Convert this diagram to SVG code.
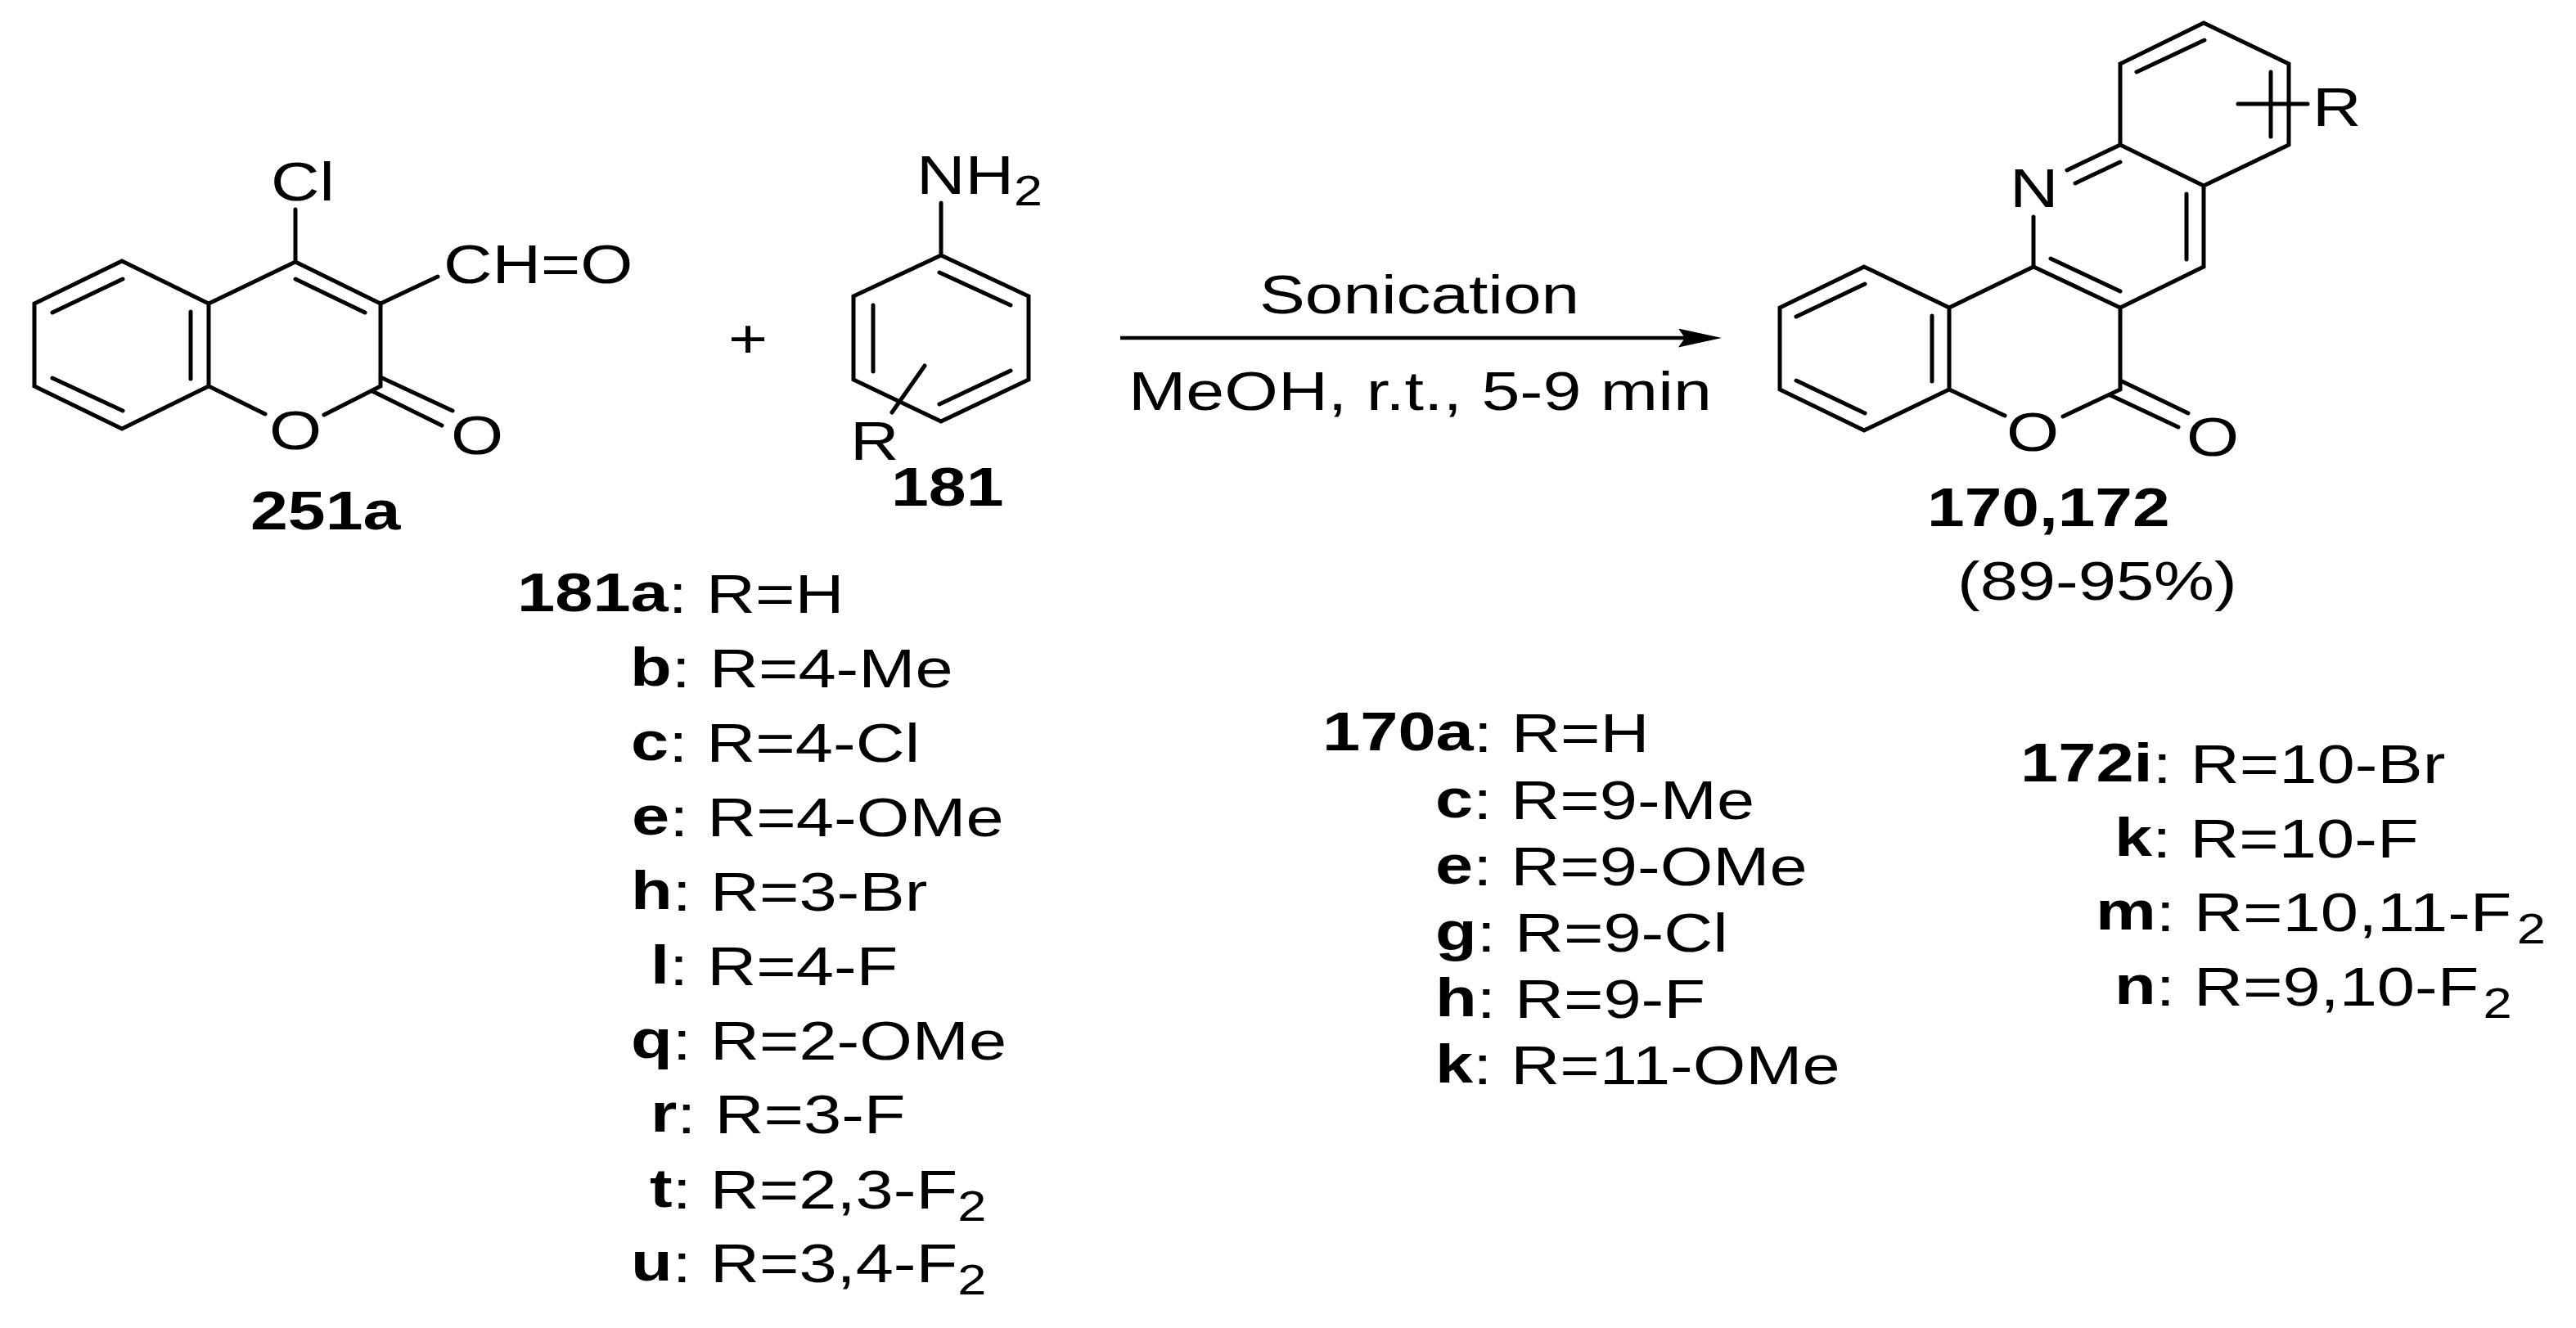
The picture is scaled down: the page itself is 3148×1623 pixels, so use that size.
<svg xmlns="http://www.w3.org/2000/svg" width="3148" height="1623" viewBox="0 0 3148 1623">
<style>
text{font-family:"Liberation Sans",Arial,sans-serif;font-size:67px;fill:#000}
.b{font-weight:700}
.s{font-size:51px}
.bond{fill:none;stroke:#000;stroke-width:5;stroke-linecap:round;stroke-linejoin:miter}
</style>
<defs>
<marker id="head" markerUnits="userSpaceOnUse" viewBox="0 0 53 23" markerWidth="53" markerHeight="23" refX="15" refY="11.5" orient="auto"><path d="M0,0L53,11.5L0,23L8,11.5Z" fill="#000"/></marker>
</defs>
<rect width="3148" height="1623" fill="#fff"/>
<g id="compound-251a">
<path class="bond" d="M149,319L42,371V472L149,524L255,472V371ZM255,371L361,320L465,371V472L396,507M255,472L324,506M361,320V256M465,371L535,338M361,341L446,382M150,341L64,382M233,381V463M64,462L150,502M465,461L553,502M455,478L540,520"/>
<text transform="translate(331 245) scale(1.23 1)">Cl</text>
<text transform="translate(542 346) scale(1.23 1)">CH=O</text>
<text transform="translate(329 549) scale(1.23 1)">O</text>
<text transform="translate(551 555) scale(1.23 1)">O</text>
<text class="b" transform="translate(306 647) scale(1.23 1)">251a</text>
</g>
<g id="plus"><text text-anchor="middle" transform="translate(914 437) scale(1.23 1)">+</text></g>
<g id="compound-181">
<path class="bond" d="M1150,312L1257,362V464L1150,515L1043,464V362ZM1150,312V248M1148,333L1235,373M1067,373V454M1148,494L1235,453M1130,447L1090,504"/>
<text transform="translate(1120 237) scale(1.23 1)">NH<tspan class="s" dy="14">2</tspan></text>
<text transform="translate(1039 562) scale(1.23 1)">R</text>
<text class="b" transform="translate(1089 618) scale(1.23 1)">181</text>
</g>
<g id="connectors">
<line x1="1369" y1="413" x2="2066" y2="413" stroke="#000" stroke-width="4.5" marker-end="url(#head)"/>
</g>
<g id="conditions">
<text transform="translate(1539 383) scale(1.25 1)">Sonication</text>
<text transform="translate(1379 501) scale(1.26 1)">MeOH, r.t., 5-9 min</text>
</g>
<g id="compound-170-172">
<path class="bond" d="M2693,28L2797,78V177L2693,227L2591,177V78ZM2693,227V326L2591,376L2485,326V265M2591,177L2526,208M2536,224L2591,198M2485,326L2382,376L2278,326L2175,376V476L2278,526L2382,476V376M2382,476L2450,508M2521,509L2591,476V376M2611,88L2694,49M2775,88V167M2672,237V317M2506,316L2591,356M2195,387L2279,347M2361,386V466M2195,465L2279,505M2591,465L2674,505M2579,483L2662,522M2735,127H2820"/>
<text transform="translate(2826 154) scale(1.23 1)">R</text>
<text transform="translate(2456 253) scale(1.23 1)">N</text>
<text transform="translate(2452 551) scale(1.23 1)">O</text>
<text transform="translate(2672 557) scale(1.23 1)">O</text>
<text class="b" transform="translate(2355 643) scale(1.225 1)">170,172</text>
<text transform="translate(2392 733) scale(1.24 1)">(89-95%)</text>
</g>
<g id="list-181">
<text transform="translate(632 749) scale(1.24 1)"><tspan class="b" dy="-2">181a</tspan><tspan dy="2">: R=H</tspan></text>
<text transform="translate(770 840) scale(1.24 1)"><tspan class="b" dy="-2">b</tspan><tspan dy="2">: R=4-Me</tspan></text>
<text transform="translate(771 931) scale(1.24 1)"><tspan class="b" dy="-2">c</tspan><tspan dy="2">: R=4-Cl</tspan></text>
<text transform="translate(772 1022) scale(1.24 1)"><tspan class="b" dy="-2">e</tspan><tspan dy="2">: R=4-OMe</tspan></text>
<text transform="translate(771 1113) scale(1.24 1)"><tspan class="b" dy="-2">h</tspan><tspan dy="2">: R=3-Br</tspan></text>
<text transform="translate(795 1204) scale(1.24 1)"><tspan class="b" dy="-2">l</tspan><tspan dy="2">: R=4-F</tspan></text>
<text transform="translate(771 1295) scale(1.24 1)"><tspan class="b" dy="-2">q</tspan><tspan dy="2">: R=2-OMe</tspan></text>
<text transform="translate(795 1385) scale(1.24 1)"><tspan class="b" dy="-2">r</tspan><tspan dy="2">: R=3-F</tspan></text>
<text transform="translate(794 1477) scale(1.24 1)"><tspan class="b" dy="-2">t</tspan><tspan dy="2">: R=2,3-F</tspan><tspan class="s" dy="15">2</tspan></text>
<text transform="translate(771 1567) scale(1.24 1)"><tspan class="b" dy="-2">u</tspan><tspan dy="2">: R=3,4-F</tspan><tspan class="s" dy="15">2</tspan></text>
</g>
<g id="list-170">
<text transform="translate(1616 919) scale(1.24 1)"><tspan class="b" dy="-2">170a</tspan><tspan dy="2">: R=H</tspan></text>
<text transform="translate(1754 1001) scale(1.24 1)"><tspan class="b" dy="-2">c</tspan><tspan dy="2">: R=9-Me</tspan></text>
<text transform="translate(1754 1082) scale(1.24 1)"><tspan class="b" dy="-2">e</tspan><tspan dy="2">: R=9-OMe</tspan></text>
<text transform="translate(1754 1163) scale(1.24 1)"><tspan class="b" dy="-2">g</tspan><tspan dy="2">: R=9-Cl</tspan></text>
<text transform="translate(1754 1244) scale(1.24 1)"><tspan class="b" dy="-2">h</tspan><tspan dy="2">: R=9-F</tspan></text>
<text transform="translate(1754 1325) scale(1.24 1)"><tspan class="b" dy="-2">k</tspan><tspan dy="2">: R=11-OMe</tspan></text>
</g>
<g id="list-172">
<text transform="translate(2469 957) scale(1.24 1)"><tspan class="b" dy="-2">172i</tspan><tspan dy="2">: R=10-Br</tspan></text>
<text transform="translate(2584 1048) scale(1.24 1)"><tspan class="b" dy="-2">k</tspan><tspan dy="2">: R=10-F</tspan></text>
<text transform="translate(2561 1138) scale(1.24 1)"><tspan class="b" dy="-2">m</tspan><tspan dy="2">: R=10,11-F</tspan><tspan class="s" dx="5" dy="15">2</tspan></text>
<text transform="translate(2584 1229) scale(1.24 1)"><tspan class="b" dy="-2">n</tspan><tspan dy="2">: R=9,10-F</tspan><tspan class="s" dx="4" dy="15">2</tspan></text>
</g>
</svg>
